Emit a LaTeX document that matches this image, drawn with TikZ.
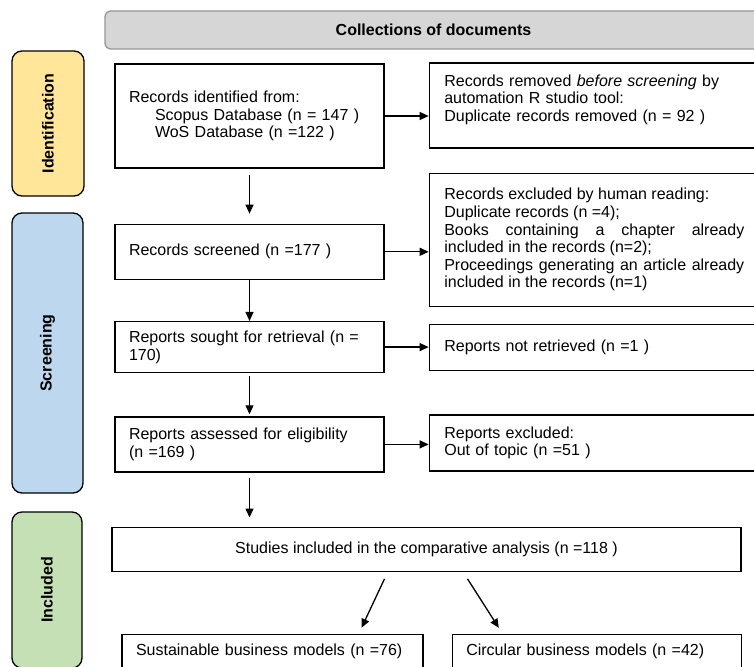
\documentclass[tikz,border=0pt]{standalone}
\usepackage{fontspec}
\setmainfont{Liberation Sans}
\usepackage{tikz}
\usetikzlibrary{arrows.meta,positioning}
\definecolor{phaseyellow}{RGB}{255,230,153}
\definecolor{phaseblue}{RGB}{189,215,238}
\definecolor{phasegreen}{RGB}{197,224,180}
\definecolor{headgray}{RGB}{214,214,214}
\definecolor{headborder}{RGB}{150,150,150}
\hyphenpenalty=10000

\begin{document}
\begin{tikzpicture}[
    x=1pt, y=-1pt,
    every node/.style={font=\fontsize{16}{17.6}\selectfont},
    header/.style={rectangle, draw=headborder, fill=headgray, rounded corners=6pt, line width=1.3pt, font=\fontsize{16}{17.6}\selectfont\bfseries},
    phase/.style={rectangle, draw=black, rounded corners=10pt, line width=1.3pt, rotate=90, font=\fontsize{16}{17.6}\selectfont\bfseries},
    box/.style={rectangle, draw=black, line width=1.3pt, align=left, inner xsep=14pt, inner ysep=0pt},
    leftbox/.style={box, text width=241pt},
    sidebox/.style={box, inner xsep=15pt, text width=300pt},
    arrow/.style={-{Triangle[length=9pt,width=8pt]}, line width=1.3pt, draw=black}
]
\useasboundingbox (0,0) rectangle (754,666);

\node[header, minimum width=657pt, minimum height=38pt] (collect) at (433.5,30) {Collections of documents};

% phases
\node[phase, fill=phaseyellow, minimum width=145pt, minimum height=72pt] (ident) at (48,123.5) {Identification};
\node[phase, fill=phaseblue, minimum width=280pt, minimum height=71pt] (screen) at (47.5,353) {Screening};
\node[phase, fill=phasegreen, minimum width=156pt, minimum height=70pt] (incl) at (47,590) {Included};

% main column
\node[leftbox, minimum height=104pt] (rid) at (249.5,116) {Records identified from:\\ \hspace*{26pt}Scopus Database (n = 147 )\\ \hspace*{26pt}WoS Database (n =122 )};
\node[leftbox, below=55pt of rid, minimum height=55pt] (screened) {Records screened (n =177 )};
\node[leftbox, below=41pt of screened, minimum height=51pt] (sought) {Reports sought for retrieval (n =\\170)};
\node[leftbox, below=43pt of sought, minimum height=55pt] (assessed) {Reports assessed for eligibility\\(n =169 )};
\node[box, align=center, minimum width=629pt, minimum height=44pt, below right=54pt and -3pt of assessed.south west] (studies) {Studies included in the comparative analysis (n =118 )};

% side column
\node[sidebox, minimum height=85pt, below right=-1pt and 44pt of rid.north east] (removed) {Records removed \emph{before screening} by\\automation R studio tool:\\Duplicate records removed (n = 92 )\rule[-15pt]{0pt}{0pt}};
\node[sidebox, align=justify, minimum height=133pt, below=24pt of removed] (excluded) {Records excluded by human reading:\\Duplicate records (n =4);\\Books containing a chapter already \mbox{included} in the records (n=2);\\Proceedings generating an article already included in the records (n=1)};
\node[sidebox, minimum height=46pt, below=17pt of excluded] (notret) {Reports not retrieved (n =1 )};
\node[sidebox, minimum height=56pt, below=43pt of notret] (rexcl) {Reports excluded:\\Out of topic (n =51 )};

% results
\node[box, text width=273pt, minimum height=53pt, below right=62pt and 10pt of studies.south west] (sbm) {Sustainable business models (n =76)\rule[-23pt]{0pt}{0pt}};
\node[box, text width=261pt, minimum height=53pt, right=28pt of sbm] (cbm) {Circular business models (n =42)\rule[-23pt]{0pt}{0pt}};

\draw[arrow, shorten <=6pt, shorten >=10pt] (rid) -- (screened);
\draw[arrow] (screened) -- (sought);
\draw[arrow, shorten <=3pt, shorten >=2pt] (sought) -- (assessed);
\draw[arrow, shorten <=5pt, shorten >=9pt] (assessed.south) -- (assessed.south |- studies.north);
\draw[arrow] (rid.east) -- (rid.east -| removed.west);
\draw[arrow] (screened.east) -- (screened.east -| excluded.west);
\draw[arrow] (sought.east) -- (sought.east -| notret.west);
\draw[arrow] (assessed.east) -- (assessed.east -| rexcl.west);
\draw[arrow] ([shift={(-42pt,-7pt)}]studies.south) -- ([shift={(89pt,6pt)}]sbm.north);
\draw[arrow] ([shift={(41pt,-7pt)}]studies.south) -- ([shift={(-98pt,6pt)}]cbm.north);

\end{tikzpicture}
\end{document}
